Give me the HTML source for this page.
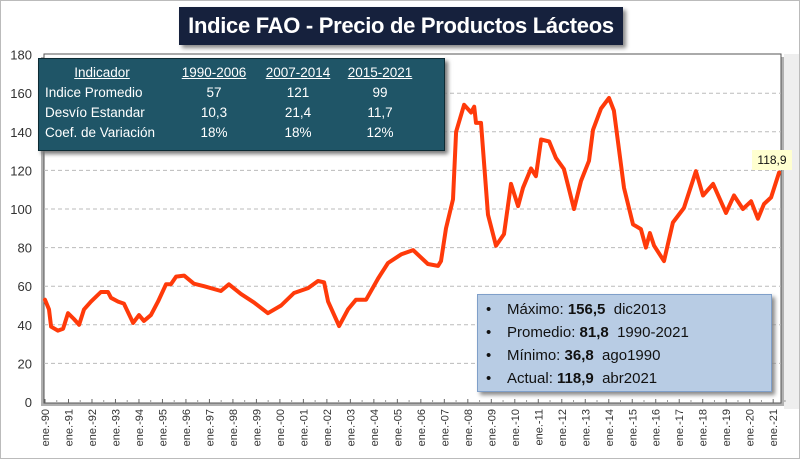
<!DOCTYPE html>
<html><head><meta charset="utf-8"><style>
body{margin:0;background:#fff}
#wrap{position:relative;width:800px;height:459px;overflow:hidden;font-family:"Liberation Sans",sans-serif;background:#fff;box-sizing:border-box;border:1px solid #bbb}
#title{position:absolute;left:178px;top:6px;width:444px;height:38px;background:#16213d;color:#fff;font-weight:bold;font-size:22px;line-height:38px;text-align:center;box-shadow:3px 3px 4px #888;letter-spacing:-0.3px}
#tbl{position:absolute;left:37px;top:57px;width:405px;height:91px;background:#1f5567;border:1px solid #0c2a33;box-shadow:3px 3px 4px #777;color:#fff;font-size:13.5px}
#tbl span{position:absolute;white-space:nowrap;transform:translateX(-50%);line-height:18px}
#tbl span.l{transform:none}
#tbl span.u{text-decoration:underline}
#stats{position:absolute;left:476px;top:293px;width:293px;height:96px;background:#b8cce4;border:1px solid #7f9fc9;box-shadow:3px 3px 4px #888;font-size:15px;color:#111}
#stats div{height:23px;line-height:23px;padding-left:8px;white-space:nowrap}
#stats span.b{display:inline-block;width:21px}
#callout{position:absolute;left:751px;top:149px;width:40px;height:20px;background:#ffffd0;font-size:12px;line-height:20px;text-align:center;color:#111}
</style></head><body>
<div id="wrap">
<svg id="chart" width="800" height="459" style="position:absolute;left:0;top:0"></svg>
<div id="title">Indice FAO - Precio de Productos Lácteos</div>
<div id="tbl">
<span class="u" style="left:63px;top:5px">Indicador</span><span class="u" style="left:175px;top:5px">1990-2006</span><span class="u" style="left:259px;top:5px">2007-2014</span><span class="u" style="left:341px;top:5px">2015-2021</span>
<span class="l" style="left:6px;top:25px">Indice Promedio</span><span style="left:175px;top:25px">57</span><span style="left:259px;top:25px">121</span><span style="left:341px;top:25px">99</span>
<span class="l" style="left:6px;top:45px">Desvío Estandar</span><span style="left:175px;top:45px">10,3</span><span style="left:259px;top:45px">21,4</span><span style="left:341px;top:45px">11,7</span>
<span class="l" style="left:6px;top:65px">Coef. de Variación</span><span style="left:175px;top:65px">18%</span><span style="left:259px;top:65px">18%</span><span style="left:341px;top:65px">12%</span>
</div>
<div id="stats">
<div style="margin-top:3px"><span class="b">•</span>Máximo: <b>156,5</b>&nbsp; dic2013</div>
<div><span class="b">•</span>Promedio: <b>81,8</b>&nbsp; 1990-2021</div>
<div><span class="b">•</span>Mínimo: <b>36,8</b>&nbsp; ago1990</div>
<div><span class="b">•</span>Actual: <b>118,9</b>&nbsp; abr2021</div>
</div>
<div id="callout">118,9</div>
</div>
<script>
const dates=[1990.0,1990.17,1990.26,1990.55,1990.77,1990.98,1991.23,1991.45,1991.66,1991.96,1992.38,1992.68,1992.81,1993.11,1993.36,1993.75,1994.0,1994.21,1994.51,1994.81,1995.15,1995.36,1995.58,1995.92,1996.34,1996.77,1997.49,1997.83,1998.34,1998.9,1999.49,2000.05,2000.6,2001.2,2001.62,2001.88,2002.05,2002.52,2002.9,2003.24,2003.67,2004.18,2004.6,2005.16,2005.67,2006.3,2006.73,2006.86,2007.07,2007.37,2007.5,2007.84,2008.14,2008.27,2008.35,2008.56,2008.86,2009.2,2009.54,2009.84,2010.14,2010.35,2010.69,2010.9,2011.12,2011.46,2011.75,2012.09,2012.52,2012.82,2013.16,2013.33,2013.67,2014.01,2014.22,2014.65,2015.03,2015.37,2015.58,2015.75,2015.93,2016.35,2016.73,2017.2,2017.71,2018.01,2018.44,2018.99,2019.33,2019.71,2020.06,2020.35,2020.61,2020.91,2021.25];
const values=[53,48,39,37,38,46,43,40,48,52,57,57,54,52,51,41,45,42,45,52,61,61,65,65.5,61.3,60,57.5,61,56,51.5,46,50,56.5,59,62.7,62,52,39.4,48,53,53,64,72,76.5,78.7,71.5,70.5,73,90,105,140,154,150,153,144.6,144.6,97,81,87,113,101.5,111,121,117,136,135,126.5,120.7,100,114.5,125,141,152,157.5,151,111,92,89.6,80,87.5,81,73,93,100.5,119.6,107,113,98,107,100,104,95,102.6,106,118.9];
const yTicks=[0,20,40,60,80,100,120,140,160,180];
const xYears=[1990,1991,1992,1993,1994,1995,1996,1997,1998,1999,2000,2001,2002,2003,2004,2005,2006,2007,2008,2009,2010,2011,2012,2013,2014,2015,2016,2017,2018,2019,2020,2021];

const NS='http://www.w3.org/2000/svg';
const svg=document.getElementById('chart');
const X0=44,PXY=23.49,Y0=401,PXV=1.93;
function xs(t){return X0+(t-1990)*PXY;}
function ys(v){return Y0-v*PXV;}
function mk(tag,attrs,parent){const e=document.createElementNS(NS,tag);for(const k in attrs)e.setAttribute(k,attrs[k]);(parent||svg).appendChild(e);return e;}

const sh=mk('rect',{x:40,y:56,width:744,height:349,fill:'#b0b0b0'});


const pa=mk('rect',{x:43,y:53,width:737,height:349,fill:'#fff',stroke:'#555','stroke-width':1});


const rg=mk('rect',{x:783,y:53,width:16,height:355,fill:'#eeeeee'});



yTicks.forEach(v=>{
  if(v>0&&v<180){
    const g=mk('line',{x1:43,x2:780,y1:ys(v),y2:ys(v),stroke:'#bbb','stroke-dasharray':'4,3'});
    
    
  }
  const t=mk('text',{x:31,y:ys(v)+5,'text-anchor':'end','font-size':13,fill:'#333','font-family':'Liberation Sans, sans-serif'});
  t.textContent=v;
  
  
});
xYears.forEach(yr=>{
  const x=xs(yr);
  const tk=mk('line',{x1:x,x2:x,y1:Y0-3,y2:Y0+1,stroke:'#666'});
  
  
  const mt=mk('line',{x1:x+PXY/2,x2:x+PXY/2,y1:Y0-2,y2:Y0,stroke:'#999'});
  
  
  const lb=mk('text',{x:0,y:0,'text-anchor':'end','font-size':11,fill:'#333','font-family':'Liberation Sans, sans-serif',transform:'translate('+(x+4)+','+(Y0+7)+') rotate(-90)'});
  lb.textContent='ene.-'+String(yr%100).padStart(2,'0');
  
  
});
const d=dates.map((t,i)=>(i?'L':'M')+xs(t).toFixed(1)+','+ys(values[i]).toFixed(1)).join(' ');
const ln=mk('path',{d:d,fill:'none',stroke:'#ff3a0a','stroke-width':4,'stroke-linejoin':'round','stroke-linecap':'round'});


</script>
</body></html>
